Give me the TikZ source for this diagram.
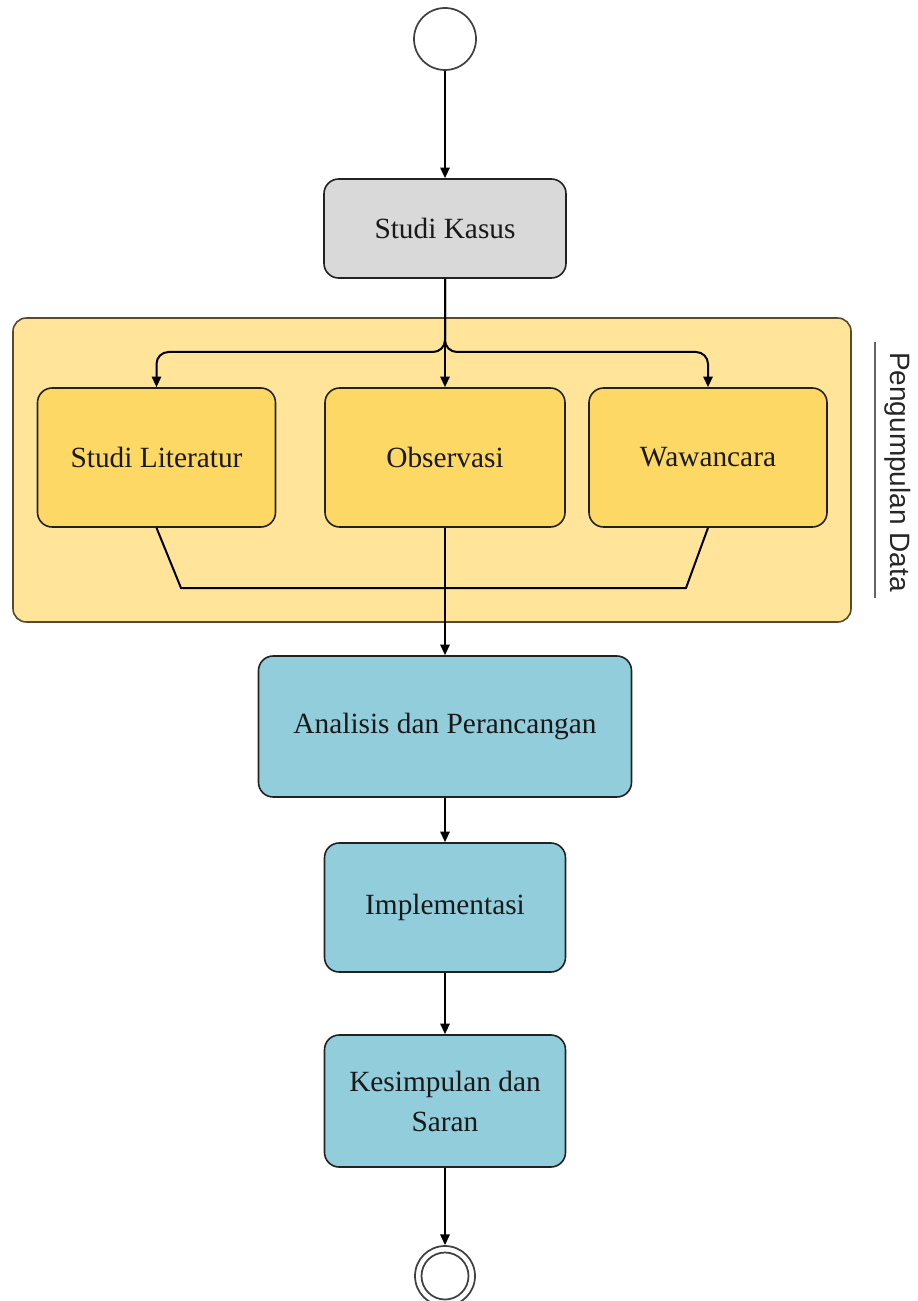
\documentclass[tikz,border=0pt]{standalone}
\usepackage{fontspec}
\setmainfont{Liberation Serif}
\newfontfamily\lanefont{Liberation Sans}
\usetikzlibrary{arrows.meta}
\definecolor{grayfill}{HTML}{D9D9D9}
\definecolor{lanefill}{HTML}{FFE49A}
\definecolor{yelfill}{HTML}{FDD865}
\definecolor{bluefill}{HTML}{92CDDB}
\definecolor{edge}{HTML}{222222}
\definecolor{laneedge}{HTML}{5A4A2A}
\tikzset{
  box/.style={draw=edge, line width=1.2pt, rounded corners=11pt, inner sep=0pt, align=center,
     font=\fontsize{22}{30}\selectfont, text=black!90},
  graybox/.style={box, fill=grayfill},
  yelbox/.style={box, fill=yelfill},
  bluebox/.style={box, fill=bluefill},
  conn/.style={draw=black, line width=1.5pt},
  arr/.style={conn, -{Triangle[length=8pt,width=7pt]}},
}
\begin{document}
\begin{tikzpicture}[x=0.75pt,y=-0.75pt]
\useasboundingbox (0,0) rectangle (917,1301);
% lane container
\node[draw=laneedge, line width=1.2pt, fill=lanefill, rounded corners=10pt, inner sep=0pt,
  minimum width=838*0.75pt, minimum height=304*0.75pt] (lane) at (432,470) {};
\coordinate (lblTop) at (875,342);
\coordinate (lblBot) at (875,598);
\draw[draw=gray!80!black, line width=1.4pt] (lblTop) -- (lblBot);
\node[rotate=-90, font=\lanefont\fontsize{21}{24}\selectfont, text=black!85] (lanelbl) at (898,472) {Pengumpulan Data};
% start / end
\node[draw=black!75, line width=1.3pt, circle, minimum size=62*0.75pt, inner sep=0pt, fill=white] (start) at (445,39) {};
\node[draw=black!75, line width=1.3pt, circle, minimum size=60*0.75pt, inner sep=0pt, fill=white] (end) at (445,1276) {};
\node[draw=black!75, line width=1.3pt, circle, minimum size=47*0.75pt, inner sep=0pt] (endin) at (end.center) {};
% boxes
\node[graybox, minimum width=242*0.75pt, minimum height=99*0.75pt] (sk) at (445,228.5) {Studi Kasus};
\node[yelbox, minimum width=238*0.75pt, minimum height=139*0.75pt] (lit) at (156.5,457.5) {Studi Literatur};
\node[yelbox, minimum width=240*0.75pt, minimum height=139*0.75pt] (obs) at (445,457.5) {Observasi};
\node[yelbox, minimum width=238*0.75pt, minimum height=139*0.75pt] (waw) at (708,457.5) {Wawancara};
\node[bluebox, minimum width=373*0.75pt, minimum height=141*0.75pt] (ana) at (445,726.5) {Analisis dan Perancangan};
\node[bluebox, minimum width=241*0.75pt, minimum height=129*0.75pt] (imp) at (445,907.5) {Implementasi};
\node[bluebox, minimum width=241*0.75pt, minimum height=132*0.75pt] (kes) at (445,1101) {Kesimpulan dan\\Saran};
% connectors
\coordinate (fork) at (445,352);
\coordinate (mL) at (181,588);
\coordinate (mR) at (686,588);
\draw[arr] (start) -- (sk);
\draw[arr] (sk.south) -- (obs.north);
\draw[arr, rounded corners=9pt] (sk.south) -- (fork) -| (lit.north);
\draw[arr, rounded corners=9pt] (sk.south) -- (fork) -| (waw.north);
\draw[conn] (lit.south) -- (mL) -- (mR) -- (waw.south);
\draw[arr] (obs.south) -- (ana.north);
\draw[arr] (ana) -- (imp);
\draw[arr] (imp) -- (kes);
\draw[arr] (kes) -- (end);
\end{tikzpicture}
\end{document}
